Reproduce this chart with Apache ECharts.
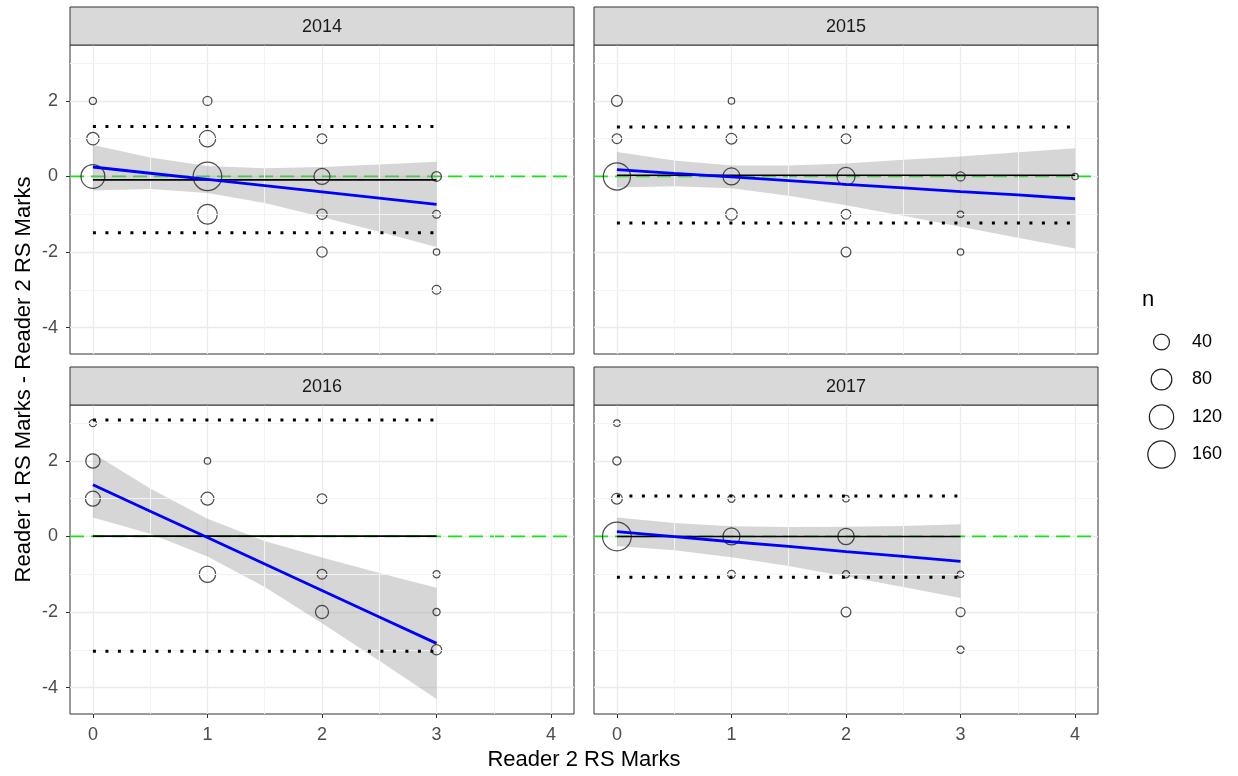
<!DOCTYPE html>
<html><head><meta charset="utf-8">
<script src="https://cdn.jsdelivr.net/npm/echarts@6/dist/echarts.min.js"></script>
<style>html,body{margin:0;padding:0;background:#fff}#c{width:1238px;height:776px}</style>
</head><body><div id="c"></div>
<script>
// ---------- data ----------
const years = ['2014', '2015', '2016', '2017'];
const xTicks = [0, 1, 2, 3, 4];
const yTicks = [-4, -2, 0, 2];
const xMinor = [0.5, 1.5, 2.5, 3.5];
const yMinor = [-3, -1, 1, 3];
const legendN = [40, 80, 120, 160];
const zeroRef = 0;

// points: [Reader 2 RS Marks, difference, n]
const pts2014 = [[0,2,2],[0,1,19],[0,0,114],[1,2,6],[1,1,43],[1,0,177],[1,-1,71],[2,1,8],[2,0,40],[2,-1,10],[2,-2,10],[3,0,8],[3,-1,3],[3,-2,1],[3,-3,5]];
const pts2015 = [[0,2,12],[0,1,8],[0,0,157],[1,2,1],[1,1,12],[1,0,48],[1,-1,15],[2,1,8],[2,0,56],[2,-1,8],[2,-2,8],[3,0,6],[3,-1,1],[3,-2,1],[4,0,1]];
const pts2016 = [[0,3,2],[0,2,29],[0,1,33],[1,2,1],[1,1,22],[1,-1,43],[2,1,8],[2,-1,8],[2,-2,22],[3,-1,2],[3,-2,2],[3,-3,10]];
const pts2017 = [[0,3,1],[0,2,4],[0,1,12],[0,0,180],[1,1,2],[1,0,48],[1,-1,3],[2,1,1],[2,0,43],[2,-1,2],[2,-2,8],[3,-1,1],[3,-2,6],[3,-3,2]];

// linear fit and its confidence band
const ribbonX2014 = [0, 0.5, 1, 1.5, 2, 2.5, 3];
const fit2014   = [0.25, 0.085, -0.08, -0.245, -0.41, -0.575, -0.74];
const upper2014 = [0.83, 0.505, 0.28, 0.215, 0.25, 0.315, 0.39];
const lower2014 = [-0.37, -0.335, -0.44, -0.705, -1.07, -1.465, -1.87];

const ribbonX2015 = [0, 0.5, 1, 1.5, 2, 2.5, 3, 3.5, 4];
const fit2015   = [0.18, 0.08, -0.01, -0.11, -0.21, -0.30, -0.40, -0.49, -0.59];
const upper2015 = [0.65, 0.42, 0.29, 0.29, 0.34, 0.44, 0.53, 0.64, 0.75];
const lower2015 = [-0.29, -0.26, -0.31, -0.51, -0.76, -1.04, -1.33, -1.62, -1.91];

const ribbonX2016 = [0, 0.5, 1, 1.5, 2, 2.5, 3];
const fit2016   = [1.37, 0.67, -0.03, -0.73, -1.43, -2.13, -2.83];
const upper2016 = [2.2, 1.27, 0.47, -0.12, -0.56, -0.97, -1.36];
const lower2016 = [0.5, 0.07, -0.53, -1.34, -2.30, -3.29, -4.3];

const ribbonX2017 = [0, 0.5, 1, 1.5, 2, 2.5, 3];
const fit2017   = [0.13, -0.005, -0.14, -0.265, -0.40, -0.53, -0.66];
const upper2017 = [0.5, 0.355, 0.27, 0.25, 0.26, 0.28, 0.32];
const lower2017 = [-0.25, -0.365, -0.55, -0.78, -1.06, -1.34, -1.63];

// mean difference and limits of agreement
const meanDiff = [-0.09, 0.03, 0.01, 0.0];
const upperLoA = [1.32, 1.31, 3.08, 1.07];
const lowerLoA = [-1.49, -1.23, -3.04, -1.08];
const xMax = [3, 4, 3, 3];

// ---------- layout / style ----------
const FONT = '"Liberation Sans", Arial, Helvetica, sans-serif';
const xRange = [-0.2, 4.2];
const yRange = [-4.7, 3.48];
const panelLeft = [70, 594], panelTop = [45, 405];
const panelW = 504, panelH = 309, stripH = 38;
const sizeOf = n => 4.6 + 1.8 * Math.sqrt(n);

const allPts = [pts2014, pts2015, pts2016, pts2017];
const allRX = [ribbonX2014, ribbonX2015, ribbonX2016, ribbonX2017];
const allFit = [fit2014, fit2015, fit2016, fit2017];
const allUp = [upper2014, upper2015, upper2016, upper2017];
const allLo = [lower2014, lower2015, lower2016, lower2017];

const grids = [], xAxes = [], yAxes = [], series = [], graphics = [];
const intFmt = v => (Math.abs(v - Math.round(v)) < 1e-9 ? String(Math.round(v)) : '');

years.forEach((yr, k) => {
  const col = k % 2, row = Math.floor(k / 2);
  const L = panelLeft[col], T = panelTop[row];
  const bottom = row === 1, left = col === 0;
  grids.push({left: L, top: T, width: panelW, height: panelH, show: true,
    borderColor: '#333', borderWidth: 1, backgroundColor: 'transparent'});
  xAxes.push({gridIndex: k, type: 'value', min: xRange[0], max: xRange[1], splitNumber: 4,
    position: 'bottom',
    axisLine: {show: false, onZero: false},
    axisTick: {show: bottom, length: 4, lineStyle: {color: '#333', width: 1}, customValues: xTicks},
    axisLabel: {show: bottom, margin: 12, fontSize: 18, color: '#4d4d4d', fontFamily: FONT,
      formatter: intFmt, customValues: xTicks},
    splitLine: {show: true, lineStyle: {color: '#ebebeb', width: 1.3}}});
  yAxes.push({gridIndex: k, type: 'value', min: yRange[0], max: yRange[1], splitNumber: 4,
    position: 'left',
    axisLine: {show: false, onZero: false},
    axisTick: {show: left, length: 4, lineStyle: {color: '#333', width: 1}, customValues: yTicks},
    axisLabel: {show: left, margin: 12, fontSize: 18, color: '#4d4d4d', fontFamily: FONT,
      formatter: intFmt, customValues: yTicks},
    splitLine: {show: true, lineStyle: {color: '#ebebeb', width: 1.3}}});

  // minor grid lines
  series.push({type: 'line', xAxisIndex: k, yAxisIndex: k, z: 1, silent: true, symbol: 'none',
    data: [[xRange[0], yRange[0]]], lineStyle: {opacity: 0},
    markLine: {silent: true, symbol: ['none', 'none'], animation: false, label: {show: false},
      lineStyle: {color: '#f3f3f3', width: 1, type: 'solid'},
      data: xMinor.map(v => ({xAxis: v})).concat(yMinor.map(v => ({yAxis: v})))}});
  // green dashed reference line at 0
  series.push({type: 'line', xAxisIndex: k, yAxisIndex: k, z: 2, silent: true, symbol: 'none',
    data: [[xRange[0], zeroRef], [xRange[1], zeroRef]],
    lineStyle: {color: '#19e619', width: 1.8, type: [14, 7]}});
  // confidence ribbon
  const rx = allRX[k], up = allUp[k], lo = allLo[k];
  series.push({type: 'custom', xAxisIndex: k, yAxisIndex: k, z: 3, silent: true,
    data: [[rx[0], lo[0]]],
    renderItem: function (params, api) {
      const p = [];
      for (let i = 0; i < rx.length; i++) p.push(api.coord([rx[i], up[i]]));
      for (let i = rx.length - 1; i >= 0; i--) p.push(api.coord([rx[i], lo[i]]));
      return {type: 'polygon', shape: {points: p}, style: {fill: 'rgba(153,153,153,0.4)'}};
    }});
  // points
  series.push({type: 'scatter', xAxisIndex: k, yAxisIndex: k, z: 4, silent: true,
    data: allPts[k], symbol: 'circle',
    symbolSize: v => sizeOf(v[2]),
    itemStyle: {color: 'rgba(0,0,0,0)', borderColor: '#222', borderWidth: 1.25}});
  // mean difference
  series.push({type: 'line', xAxisIndex: k, yAxisIndex: k, z: 5, silent: true, symbol: 'none',
    data: [[0, meanDiff[k]], [xMax[k], meanDiff[k]]],
    lineStyle: {color: '#000', width: 1.6}});
  // limits of agreement (dotted)
  [upperLoA[k], lowerLoA[k]].forEach(v => {
    series.push({type: 'line', xAxisIndex: k, yAxisIndex: k, z: 5, silent: true, symbol: 'none',
      data: [[0, v], [xMax[k], v]],
      lineStyle: {color: '#000', width: 3, type: [3, 9.5]}});
  });
  // fitted line
  series.push({type: 'line', xAxisIndex: k, yAxisIndex: k, z: 6, silent: true, symbol: 'none',
    data: rx.map((x, i) => [x, allFit[k][i]]),
    lineStyle: {color: '#0000ff', width: 2.8}});

  // strip
  graphics.push({type: 'rect', z: 10, shape: {x: L, y: T - stripH, width: panelW, height: stripH},
    style: {fill: '#d9d9d9', stroke: '#333', lineWidth: 1}});
  graphics.push({type: 'text', z: 11, x: L + panelW / 2, y: T - stripH / 2 + 1,
    style: {text: yr, fontSize: 18, fontFamily: FONT, fill: '#1a1a1a', align: 'center', verticalAlign: 'middle'}});
});

// axis titles
graphics.push({type: 'text', x: 584, y: 760,
  style: {text: 'Reader 2 RS Marks', fontSize: 22, fontFamily: FONT, fill: '#000', align: 'center', verticalAlign: 'middle'}});
graphics.push({type: 'text', x: 24, y: 379.5, rotation: Math.PI / 2,
  style: {text: 'Reader 1 RS Marks - Reader 2 RS Marks', fontSize: 22, fontFamily: FONT, fill: '#000', align: 'center', verticalAlign: 'middle'}});

// size legend
graphics.push({type: 'text', x: 1142, y: 300,
  style: {text: 'n', fontSize: 22, fontFamily: FONT, fill: '#000', align: 'left', verticalAlign: 'middle'}});
legendN.forEach((n, i) => {
  const cy = 342 + i * 37.5;
  graphics.push({type: 'circle', shape: {cx: 1161.5, cy: cy, r: sizeOf(n) / 2},
    style: {fill: 'none', stroke: '#222', lineWidth: 1.25}});
  graphics.push({type: 'text', x: 1192, y: cy,
    style: {text: String(n), fontSize: 18, fontFamily: FONT, fill: '#000', align: 'left', verticalAlign: 'middle'}});
});

const chart = echarts.init(document.getElementById('c'), null, {renderer: 'canvas'});
chart.setOption({
  animation: false,
  backgroundColor: '#fff',
  textStyle: {fontFamily: FONT},
  grid: grids, xAxis: xAxes, yAxis: yAxes, series: series, graphic: graphics
});
</script></body></html>
